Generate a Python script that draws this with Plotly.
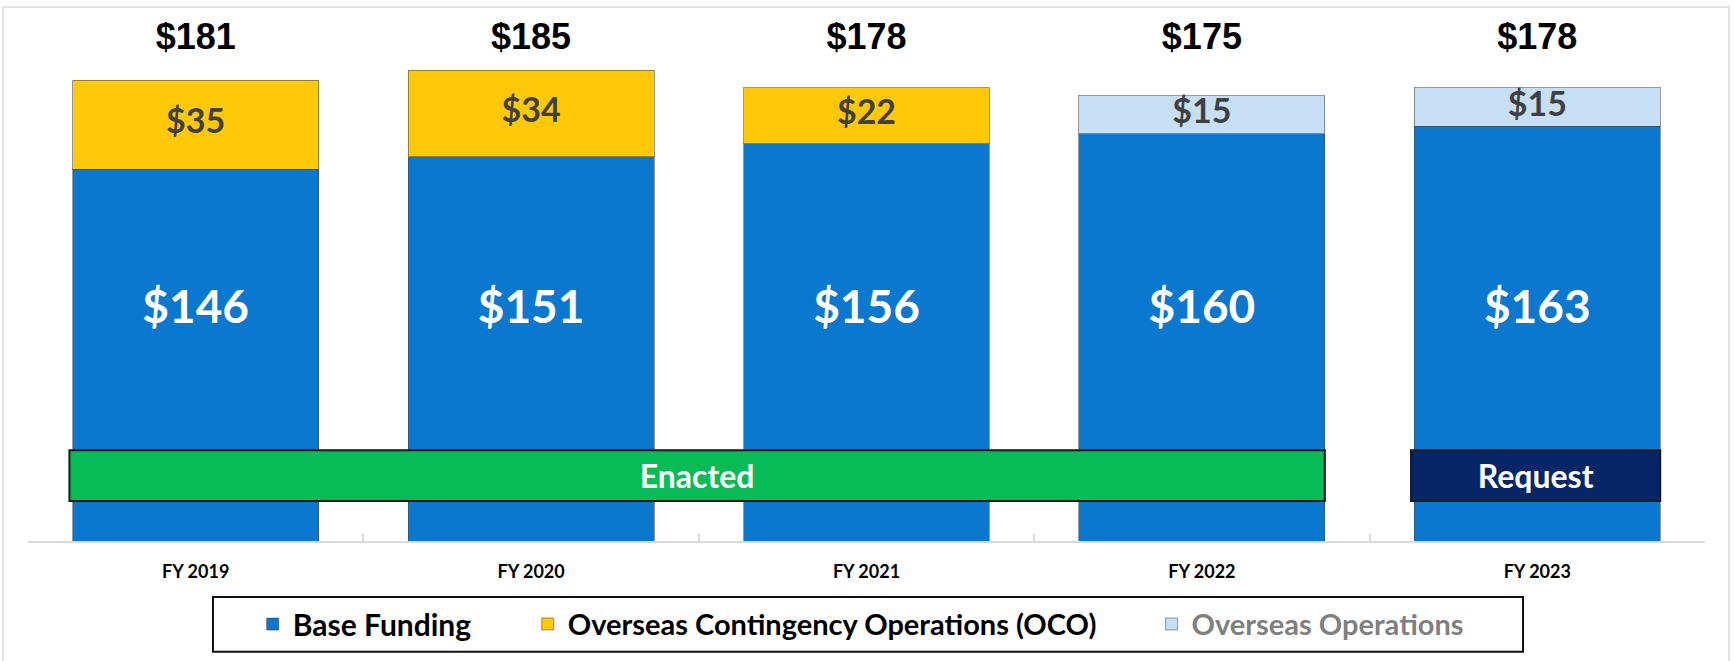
import plotly.graph_objects as go

# ---------------- data ----------------
categories = ["FY 2019", "FY 2020", "FY 2021", "FY 2022", "FY 2023"]
base_funding = [146, 151, 156, 160, 163]
oco = [35, 34, 22, None, None]
overseas_ops = [None, None, None, 15, 15]
# (label, first category index, last category index, fill)
phases = [("Enacted", 0, 3, "#07BB56"), ("Request", 4, 4, "#072668")]

# ---------------- styles ----------------
BASE_COLOR = "#0A78CE"
OCO_COLOR = "#FFC90A"
OPS_COLOR = "#C6DFF4"
BAR_LINE = dict(color="rgba(70,70,70,0.55)", width=1)
FONT = "Lato"
BARGAP = 0.267
TOTAL_LABEL_Y = 197
BASE_LABEL_Y = 90
PHASE_Y = (15.7, 35.7)

totals = [b + (o or 0) + (p or 0) for b, o, p in zip(base_funding, oco, overseas_ops)]

fig = go.Figure()
fig.add_bar(x=categories, y=base_funding, name="Base Funding",
            marker=dict(color=BASE_COLOR, line=BAR_LINE), legend="legend", hoverinfo="skip")
fig.add_bar(x=categories, y=oco, name="Overseas Contingency Operations (OCO)",
            marker=dict(color=OCO_COLOR, line=BAR_LINE), legend="legend2", hoverinfo="skip")
fig.add_bar(x=categories, y=overseas_ops, name="Overseas Operations",
            marker=dict(color=OPS_COLOR, line=BAR_LINE), legend="legend3", hoverinfo="skip")

# base value labels
fig.add_scatter(x=categories, y=[BASE_LABEL_Y] * len(categories), mode="text",
                text=[f"${v}" for v in base_funding], showlegend=False, hoverinfo="skip",
                textfont=dict(family=FONT, size=46, color="white", weight=700), cliponaxis=False)

# upper segment labels
up_x, up_y, up_t = [], [], []
for c, b, o, p in zip(categories, base_funding, oco, overseas_ops):
    v = o if o is not None else p
    if v is not None:
        up_x.append(c)
        up_y.append(b + v / 2)
        up_t.append(f"${v}")
fig.add_scatter(x=up_x, y=up_y, mode="text", text=up_t, showlegend=False, hoverinfo="skip",
                textfont=dict(family=FONT, size=34, color="#404040", weight=700), cliponaxis=False)

# totals
fig.add_scatter(x=categories, y=[TOTAL_LABEL_Y] * len(categories), mode="text",
                text=[f"${t}" for t in totals], showlegend=False, hoverinfo="skip",
                textfont=dict(family="Liberation Sans", size=36, color="black", weight=700),
                cliponaxis=False)

# phase boxes
half = (1 - BARGAP) / 2
shapes = []
for label, i0, i1, fill in phases:
    shapes.append(dict(type="rect", xref="x", yref="y",
                       x0=i0 - half - 0.01, x1=i1 + half, y0=PHASE_Y[0], y1=PHASE_Y[1],
                       fillcolor=fill, line=dict(color="#1a1a1a", width=2), layer="above",
                       label=dict(text=label, textposition="middle center",
                                  font=dict(family=FONT, size=32, color="white", weight=700))))

# outer border and legend box
shapes.append(dict(type="rect", xref="paper", yref="paper", x0=-0.0149, x1=1.0143,
                   y0=-0.3, y1=1.049, line=dict(color="#D9D9D9", width=1.5), layer="below"))
shapes.append(dict(type="rect", xref="paper", yref="paper", x0=0.1103, x1=0.8915,
                   y0=-0.2176, y1=-0.1098, line=dict(color="#111111", width=2)))

legend_common = dict(orientation="h", bgcolor="rgba(0,0,0,0)", xanchor="left",
                     yanchor="middle", y=-0.161)
fig.update_layout(
    width=1733, height=661,
    margin=dict(l=28, r=28, t=32, b=119),
    paper_bgcolor="white", plot_bgcolor="white",
    barmode="stack", bargap=BARGAP,
    shapes=shapes,
    xaxis=dict(showline=True, linecolor="#D9D9D9", linewidth=2, ticks="inside",
               tickson="boundaries", ticklen=7, tickwidth=2, tickcolor="#D9D9D9",
               tickfont=dict(family=FONT, size=18, color="black", weight=700),
               ticklabelstandoff=13, showgrid=False, zeroline=False, fixedrange=True),
    yaxis=dict(visible=False, range=[0, 200], fixedrange=True),
    legend=dict(**legend_common, x=0.134,
                font=dict(family=FONT, size=30, color="black", weight=700)),
    legend2=dict(**legend_common, x=0.298,
                 font=dict(family=FONT, size=29, color="black", weight=700)),
    legend3=dict(**legend_common, x=0.670,
                 font=dict(family=FONT, size=29, color="#7F7F7F", weight=700)),
)

fig.write_html("out.html", config={"displayModeBar": False},
               post_script="document.body.style.margin='0px';")
